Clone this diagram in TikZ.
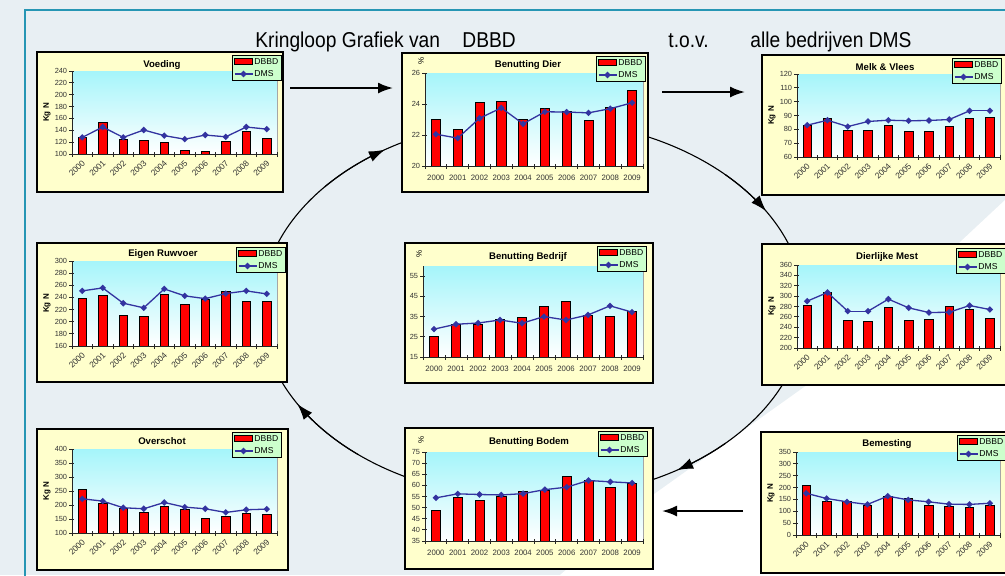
\documentclass[tikz,border=0pt]{standalone}
\usepackage{fontspec}
\usepackage{graphicx}
\setmainfont{Liberation Sans}
\usetikzlibrary{arrows.meta}
\definecolor{bgc}{RGB}{232,239,243}
\definecolor{framec}{RGB}{38,150,180}
\definecolor{chartbgc}{RGB}{255,255,204}
\definecolor{plottop}{RGB}{165,245,250}
\definecolor{legbg}{RGB}{204,255,204}
\definecolor{dmsc}{RGB}{51,51,160}
\definecolor{barc}{RGB}{255,0,0}
\tikzset{
 chartbox/.style={draw=black, line width=0.9pt},
 barstyle/.style={fill=barc, draw=black, line width=0.35pt},
 dmsline/.style={draw=dmsc, line width=0.65pt},
 axisline/.style={draw=black!85, line width=0.5pt},
 ticklab/.style={font=\fontsize{3.7}{4}\selectfont, text=black!80, inner sep=0.5pt},
 xlabh/.style={font=\fontsize{3.9}{4}\selectfont, text=black!80, inner sep=0.5pt},
 xlabr/.style={font=\fontsize{4.2}{4.5}\selectfont, text=black!80, inner sep=0.3pt, rotate=45, anchor=east},
 ctitle/.style={font=\bfseries\fontsize{4.8}{5}\selectfont, inner sep=0},
 ylabk/.style={font=\bfseries\fontsize{4}{4}\selectfont, rotate=90, inner sep=0},
 legbox/.style={fill=legbg, draw=black, line width=0.5pt},
 legtext/.style={font=\fontsize{4.3}{4.5}\selectfont, anchor=west, inner sep=0},
 maintitle/.style={font=\fontsize{9.6}{11}\selectfont, anchor=base west, inner sep=0},
 flowarrow/.style={line width=1pt, -{Latex[length=7.5pt,width=5.5pt]}},
 cycleline/.style={draw=black, line width=0.55pt},
 cyclearrow/.style={draw=black, line width=0.55pt, -{Latex[length=8pt,width=5.5pt]}},
}
\newcommand\tallt[1]{\scalebox{1}[1.12]{#1}}
\newcommand\chBox[4]{\def\BXa{#1}\def\BYa{#2}\def\BXb{#3}\def\BYb{#4}}
\newcommand\chPlot[4]{\def\PXa{#1}\def\PYa{#2}\def\PXb{#3}\def\PYb{#4}}
\newcommand\chLeg[2]{\def\LXa{#1}\def\LYa{#2}}
\newcommand\chAxis[3]{\def\Ymin{#1}\def\Ymax{#2}\def\Yticks{#3}}
\newcommand\chData[2]{\def\DBBD{#1}\def\DMS{#2}}
\newcommand\chTitle[3]{\def\Ttext{#1}\def\TX{#2}\def\TY{#3}}
\newcommand\chDiamond[2]{\fill[dmsc] (#1-3.3,#2) -- (#1,#2-3.3) -- (#1+3.3,#2) -- (#1,#2+3.3) -- cycle;}
% #1 name, #2 K or P, #3 R or H
\newcommand\drawchart[3]{%
  \fill[chartbgc] (\BXa,\BYa) rectangle (\BXb,\BYb);
  \shade[top color=plottop, bottom color=white] (\PXa,\PYa) rectangle (\PXb,\PYb);
  \draw[black!35, line width=0.4pt] (\PXb,\PYa) -- (\PXb,\PYb);
  \pgfmathsetmacro\chcw{(\PXb-\PXa)/10}
  \foreach \v [count=\i from 0] in \DBBD {
    \pgfmathsetmacro\chx{\PXa+(\i+0.5)*\chcw}
    \pgfmathsetmacro\chy{\PYb-(\v-\Ymin)/(\Ymax-\Ymin)*(\PYb-\PYa)}
    \filldraw[barstyle] ({\chx-0.21*\chcw},\PYb) rectangle ({\chx+0.21*\chcw},\chy);
  }
  \foreach \v [count=\i from 0, remember=\v as \vp (initially \Ymin)] in \DMS {
    \pgfmathsetmacro\chx{\PXa+(\i+0.5)*\chcw}
    \pgfmathsetmacro\chy{\PYb-(\v-\Ymin)/(\Ymax-\Ymin)*(\PYb-\PYa)}
    \ifnum\i>0
      \pgfmathsetmacro\prx{\chx-\chcw}
      \pgfmathsetmacro\pry{\PYb-(\vp-\Ymin)/(\Ymax-\Ymin)*(\PYb-\PYa)}
      \draw[dmsline] (\prx,\pry) -- (\chx,\chy);
    \fi
  }
  \foreach \v [count=\i from 0] in \DMS {
    \pgfmathsetmacro\chx{\PXa+(\i+0.5)*\chcw}
    \pgfmathsetmacro\chy{\PYb-(\v-\Ymin)/(\Ymax-\Ymin)*(\PYb-\PYa)}
    \chDiamond{\chx}{\chy}
  }
  \draw[axisline] (\PXa,\PYa) -- (\PXa,\PYb) -- (\PXb,\PYb);
  \foreach \tv [count=\k] in \Yticks {
    \pgfmathsetmacro\chy{\PYb-(\tv-\Ymin)/(\Ymax-\Ymin)*(\PYb-\PYa)}
    \draw[axisline] (\PXa-3,\chy) -- (\PXa+1.5,\chy);
    \node[ticklab, anchor=east] (#1-y\k) at (\PXa-3.5,\chy) {\tv};
  }
  \foreach \k in {0,...,10} {
    \pgfmathsetmacro\chx{\PXa+\k*\chcw}
    \draw[axisline] (\chx,\PYb-2) -- (\chx,\PYb+2.5);
  }
  \foreach \k in {0,...,9} {
    \pgfmathsetmacro\chx{\PXa+(\k+0.5)*\chcw}
    \pgfmathtruncatemacro\yr{2000+\k}
    \if#3R
      \node[xlabr] (#1-x\k) at (\chx+2,\PYb+7) {\yr};
    \else
      \node[xlabh] (#1-x\k) at (\chx,\PYb+12) {\yr};
    \fi
  }
  \if#2K
    \node[ylabk] (#1-yl) at (\PXa-25,{(\PYa+\PYb)/2}) {Kg N};
  \else
    \node[ylabk, font=\fontsize{4}{4}\selectfont] (#1-yl) at (\PXa-4,\PYa-12) {\%};
  \fi
  \node[ctitle] (#1-t) at (\TX,\TY) {\Ttext};
  \draw[chartbox] (\BXa,\BYa) rectangle (\BXb,\BYb);
  \draw[legbox] (\LXa,\LYa) rectangle (\LXa+49,\LYa+25);
  \filldraw[barstyle] (\LXa+2.5,\LYa+3.5) rectangle (\LXa+20,\LYa+9.5);
  \node[legtext] (#1-l1) at (\LXa+22,\LYa+6.5) {DBBD};
  \draw[dmsline] (\LXa+2.5,\LYa+19) -- (\LXa+20.5,\LYa+19);
  \chDiamond{\LXa+11.5}{\LYa+19}
  \node[legtext] (#1-l2) at (\LXa+22,\LYa+19) {DMS};
}
\begin{document}
\begin{tikzpicture}[x=0.5pt, y=-0.5pt]
\useasboundingbox (0,0) rectangle (1005,575);
\clip (0,0) rectangle (1005,575);
\fill[bgc] (0,0) rectangle (1005,575);
\fill[white] (1005,200) -- (807,385) -- (650,497) -- (560,575) -- (1005,575) -- cycle;
\draw[framec, line width=1.3pt] (25,580) -- (25,10) -- (1010,10);
% title
\node[maintitle] (t1) at (255,47) {\tallt{Kringloop Grafiek van}};
\node[maintitle] (t2) at (462,47) {\tallt{DBBD}};
\node[maintitle] (t3) at (668,47) {\tallt{t.o.v.}};
\node[maintitle] (t4) at (750,47) {\tallt{alle bedrijven DMS}};
% cycle ellipse
\draw[cycleline] plot[domain=0:360, samples=180, smooth, variable=\t] ({533+272*cos(\t)},{309-190*sin(\t)});
% charts
\chBox{37}{52}{283}{192}\chPlot{72}{71}{277}{154}\chLeg{232}{55}
\chAxis{100}{240}{100,120,140,160,180,200,220,240}
\chData{128,153,125,123,120,106,105,121,138,126}{128,145.5,128,140.5,131,125,132,129,145.5,142}
\chTitle{Voeding}{162}{65}
\drawchart{voe}{K}{R}
\chBox{402}{53}{648}{192}\chPlot{425}{73}{643}{166}\chLeg{596}{56}
\chAxis{20}{26}{20,22,24,26}
\chData{23.0,22.38,24.08,24.18,23.03,23.7,23.5,22.95,23.8,24.9}{22.05,21.8,23.08,23.75,22.72,23.5,23.48,23.43,23.7,24.08}
\chTitle{Benutting Dier}{528}{65}
\drawchart{dier}{P}{H}
\chBox{762}{55}{1012}{195}\chPlot{797}{74}{1000}{157}\chLeg{952}{58}
\chAxis{60}{120}{60,70,80,90,100,110,120}
\chData{83,88.3,79.4,79,83,78.2,78.7,82.3,87.6,89}{83,86.6,82,85.7,86.6,86.2,86.4,87.1,93.4,93.4}
\chTitle{Melk \& Vlees}{885}{67}
\drawchart{melk}{K}{R}
\chBox{37}{243}{287}{382}\chPlot{72}{261}{277}{346}\chLeg{236}{247}
\chAxis{160}{300}{160,180,200,220,240,260,280,300}
\chData{238,243,210,208.7,244.7,228.3,236.5,250.8,233,233}{250.8,255.7,230.5,222.9,254,242.6,238,246.4,250.8,245.8}
\chTitle{Eigen Ruwvoer}{163}{254}
\drawchart{eig}{K}{R}
\chBox{405}{243}{653}{383}\chPlot{423}{266}{643}{357}\chLeg{597}{246}
\chAxis{15}{60}{15,25,35,45,55}
\chData{25.3,31.2,31.3,33.7,34.7,40,42.7,35.8,35.2,37.8}{28.8,31.2,31.8,33.3,31.7,35,33.3,35.8,40.3,37.2}
\chTitle{Benutting Bedrijf}{528}{257}
\drawchart{bed}{P}{H}
\chBox{762}{244}{1012}{385}\chPlot{797}{265}{1000}{348}\chLeg{956}{248}
\chAxis{200}{360}{200,220,240,260,280,300,320,340,360}
\chData{281.3,307,253.5,251,278.7,252.9,255.5,280.6,274.2,256.8}{290.3,307,271,271,294.2,277.4,268.4,269,281.9,274.2}
\chTitle{Dierlijke Mest}{887}{257}
\drawchart{mest}{K}{R}
\chBox{37}{429}{288}{570}\chPlot{72}{449}{277}{533}\chLeg{232}{432}
\chAxis{100}{400}{100,150,200,250,300,350,400}
\chData{256.6,206.8,187.8,173.5,196.1,185.4,151,160.5,171.2,165.2}{222.2,213.9,190.2,186.6,209.1,192.5,186.6,173.5,183,185.4}
\chTitle{Overschot}{162}{441}
\drawchart{over}{K}{R}
\chBox{405}{428}{653}{569}\chPlot{425}{452}{643}{541}\chLeg{598}{431}
\chAxis{35}{75}{35,40,45,50,55,60,65,70,75}
\chData{48.7,54.6,53.5,55.3,57.1,57.8,64,62.3,58.9,61.1}{54.4,56.2,55.9,55.7,56.3,58.1,59.2,62.2,61.6,61.1}
\chTitle{Benutting Bodem}{529}{442}
\drawchart{bod}{P}{H}
\chBox{761}{432}{1012}{573}\chPlot{796}{452}{1000}{535}\chLeg{957}{435}
\chAxis{0}{350}{0,50,100,150,200,250,300,350}
\chData{210,141,140,126,161,155,123,122,118,126}{176,154,140,129,164,148,140,130,129,134}
\chTitle{Bemesting}{887}{444}
\drawchart{bem}{K}{R}
% cycle arrows
\draw[cyclearrow] plot[domain=140:123, samples=8, smooth, variable=\t] ({533+272*cos(\t)},{309-190*sin(\t)});
\draw[cyclearrow] plot[domain=45:31, samples=8, smooth, variable=\t] ({533+272*cos(\t)},{309-190*sin(\t)});
\draw[cyclearrow] plot[domain=-45:-58, samples=8, smooth, variable=\t] ({533+272*cos(\t)},{309-190*sin(\t)});
\draw[cyclearrow] plot[domain=-130:-150, samples=8, smooth, variable=\t] ({533+272*cos(\t)},{309-190*sin(\t)});
% flow arrows
\coordinate (a1s) at (290,88); \coordinate (a1e) at (393,88);
\coordinate (a2s) at (662,92); \coordinate (a2e) at (745,92);
\coordinate (a3s) at (743,511); \coordinate (a3e) at (662,511);
\draw[flowarrow] (a1s) -- (a1e);
\draw[flowarrow] (a2s) -- (a2e);
\draw[flowarrow] (a3s) -- (a3e);
\end{tikzpicture}
\end{document}
